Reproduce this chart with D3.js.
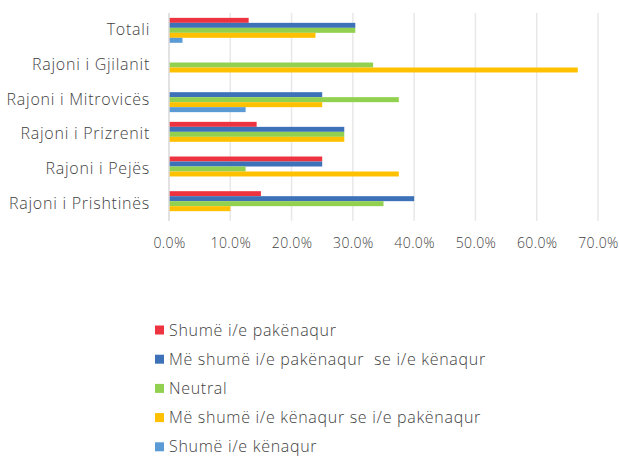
<!DOCTYPE html>
<html>
<head>
<meta charset="utf-8">
<script src="https://cdn.jsdelivr.net/npm/d3@7"></script>
<style>
  body { margin: 0; background: #fff; }
  text { font-family: "Open Sans", Lato, sans-serif; font-weight: 300; fill: #3f3f3f; white-space: pre; }
</style>
</head>
<body>
<script>
// Data
var regions = ['Totali', 'Rajoni i Gjilanit', 'Rajoni i Mitrovicës', 'Rajoni i Prizrenit', 'Rajoni i Pejës', 'Rajoni i Prishtinës'];
var seriesNames = ['Shumë i/e pakënaqur', 'Më shumë i/e pakënaqur  se i/e kënaqur', 'Neutral', 'Më shumë i/e kënaqur se i/e pakënaqur', 'Shumë i/e kënaqur'];
var veryDissatisfied = [0.130, 0, 0, 0.143, 0.25, 0.15];
var moreDissatisfied = [0.304, 0, 0.25, 0.286, 0.25, 0.40];
var neutral = [0.304, 0.333, 0.375, 0.286, 0.125, 0.35];
var moreSatisfied = [0.239, 0.667, 0.25, 0.286, 0.375, 0.10];
var verySatisfied = [0.022, 0, 0.125, 0, 0, 0];
var xTicks = [0, 0.1, 0.2, 0.3, 0.4, 0.5, 0.6, 0.7];

var colors = ['#EE3340', '#3D72B8', '#92D050', '#FFC000', '#5B9BD5'];
var allSeries = [veryDissatisfied, moreDissatisfied, neutral, moreSatisfied, verySatisfied];

var W = 619, H = 459;
var svg = d3.select('body').append('svg').attr('width', W).attr('height', H);

// Scales
var x = d3.scaleLinear().domain([0, 0.7]).range([169, 598]);
var y = d3.scaleBand().domain(regions).range([13, 221]).paddingInner(0.28).paddingOuter(0.14);
var inner = d3.scaleBand().domain(d3.range(seriesNames.length)).range([0, y.bandwidth()]);

// Gridlines
svg.append('g').selectAll('line')
  .data(xTicks.slice(1))
  .enter().append('line')
  .attr('x1', function(d) { return x(d); })
  .attr('x2', function(d) { return x(d); })
  .attr('y1', 13).attr('y2', 221)
  .attr('stroke', '#e8e8e8').attr('stroke-width', 1.5);

// Bars
var rows = [];
regions.forEach(function(r, i) {
  allSeries.forEach(function(s, j) {
    rows.push({region: r, k: j, v: s[i]});
  });
});
svg.append('g').selectAll('rect')
  .data(rows.filter(function(d) { return d.v > 0; }))
  .enter().append('rect')
  .attr('x', x(0))
  .attr('y', function(d) { return y(d.region) + inner(d.k); })
  .attr('width', function(d) { return x(d.v) - x(0); })
  .attr('height', inner.bandwidth())
  .attr('fill', function(d) { return colors[d.k]; });

// Vertical axis line
svg.append('line')
  .attr('x1', x(0)).attr('x2', x(0))
  .attr('y1', 13).attr('y2', 221)
  .attr('stroke', '#d9d9d9').attr('stroke-width', 1.5);

// X axis labels
var xAxis = d3.axisBottom(x).tickValues(xTicks).tickSize(0).tickFormat(d3.format('.1%'));
var gx = svg.append('g').attr('transform', 'translate(0,' + 235 + ')').call(xAxis);
gx.select('.domain').remove();
gx.selectAll('text').attr('font-size', 14).attr('dy', '0.71em').attr('fill', '#3f3f3f')
  .style('font-family', '"Open Sans", sans-serif').style('letter-spacing', '0.4px');

// Y axis labels
var yAxis = d3.axisLeft(y).tickSize(0).tickPadding(19);
var gy = svg.append('g').attr('transform', 'translate(' + x(0) + ',0)').call(yAxis);
gy.select('.domain').remove();
gy.selectAll('text').attr('font-size', 16).attr('fill', '#3f3f3f')
  .style('font-family', '"Open Sans", sans-serif').style('letter-spacing', '0.75px');

// Legend
var legend = svg.append('g').selectAll('g')
  .data(seriesNames)
  .enter().append('g')
  .attr('transform', function(d, i) { return 'translate(155,' + (330 + i * 29.2) + ')'; });
legend.append('rect')
  .attr('x', 0).attr('y', -4.5).attr('width', 9).attr('height', 9)
  .attr('fill', function(d, i) { return colors[i]; });
legend.append('text')
  .attr('x', 14).attr('dy', '0.35em')
  .attr('font-size', 16)
  .style('letter-spacing', '0.7px')
  .text(function(d) { return d; });
</script>
</body>
</html>
